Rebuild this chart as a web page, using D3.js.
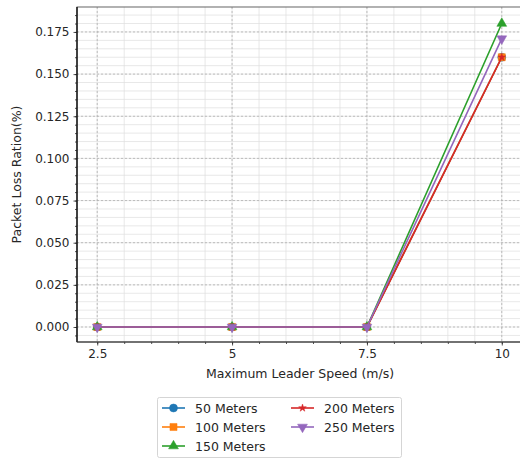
<!DOCTYPE html>
<html><head><meta charset="utf-8">
<script src="https://cdn.jsdelivr.net/npm/d3@7"></script>
<style>body{margin:0;background:#fff;} svg{display:block;} text{font-family:"DejaVu Sans",sans-serif;fill:#262626;}</style>
</head><body>
<svg id="c" width="520" height="459"></svg>
<script>
const speeds = [2.5, 5, 7.5, 10];
const xTickLabels = ["2.5", "5", "7.5", "10"];
const yTicks = [0, 0.025, 0.05, 0.075, 0.1, 0.125, 0.15, 0.175];
const seriesNames = ["50 Meters", "100 Meters", "150 Meters", "200 Meters", "250 Meters"];
const s50 = [0, 0, 0, 0.16];
const s100 = [0, 0, 0, 0.16];
const s150 = [0, 0, 0, 0.18];
const s200 = [0, 0, 0, 0.16];
const s250 = [0, 0, 0, 0.171];
const colors = ["#1f77b4", "#ff7f0e", "#2ca02c", "#d62728", "#9467bd"];
const symbols = ["circle", "square", "triangle", "star", "triangledown"];

const series = [s50, s100, s150, s200, s250].map((v, i) => ({name: seriesNames[i], values: v, color: colors[i], sym: symbols[i]}));

const svg = d3.select("#c");
const L = 77, R = 522, T = 7, B = 342;
const x = d3.scaleLinear().domain([2.125, 10.375]).range([L, R]);
const y = d3.scaleLinear().domain([-0.0089, 0.1898]).range([B, T]);

// grid
const g = svg.append("g");
const xMinor = d3.range(2.5, 10.01, 0.5);
const yMinor = d3.range(-0.005, 0.1899, 0.005);
g.selectAll(".xm").data(xMinor).enter().append("line")
  .attr("x1", d => x(d)).attr("x2", d => x(d)).attr("y1", T).attr("y2", B)
  .attr("stroke", "#dedede").attr("stroke-width", 0.7);
g.selectAll(".ym").data(yMinor).enter().append("line")
  .attr("x1", L).attr("x2", R).attr("y1", d => y(d)).attr("y2", d => y(d))
  .attr("stroke", "#dedede").attr("stroke-width", 0.7);
g.selectAll(".xM").data(speeds).enter().append("line")
  .attr("x1", d => x(d)).attr("x2", d => x(d)).attr("y1", T).attr("y2", B)
  .attr("stroke", "#b0b0b0").attr("stroke-width", 0.8).attr("stroke-dasharray", "2,2");
g.selectAll(".yM").data(yTicks).enter().append("line")
  .attr("x1", L).attr("x2", R).attr("y1", d => y(d)).attr("y2", d => y(d))
  .attr("stroke", "#b0b0b0").attr("stroke-width", 0.8).attr("stroke-dasharray", "2,2");

// axes
const xAxis = d3.axisBottom(x).tickValues(speeds).tickFormat((d, i) => xTickLabels[i]).tickSize(3.5).tickPadding(4);
const yAxis = d3.axisLeft(y).tickValues(yTicks).tickFormat(d3.format(".3f")).tickSize(3.5).tickPadding(4);
const xMinorAxis = d3.axisBottom(x).tickValues(xMinor).tickFormat("").tickSize(2);
const yMinorAxis = d3.axisLeft(y).tickValues(yMinor).tickFormat("").tickSize(2);

[xMinorAxis, xAxis].forEach(a => {
  const ax = svg.append("g").attr("transform", `translate(0,${B})`).call(a);
  ax.select(".domain").remove();
  ax.selectAll("line").attr("stroke", "#262626").attr("stroke-width", 0.8);
  ax.selectAll("text").style("font-size", "12px").attr("fill", "#262626");
});
[yMinorAxis, yAxis].forEach(a => {
  const ax = svg.append("g").attr("transform", `translate(${L},0)`).call(a);
  ax.select(".domain").remove();
  ax.selectAll("line").attr("stroke", "#262626").attr("stroke-width", 0.8);
  ax.selectAll("text").style("font-size", "12px").attr("fill", "#262626");
});

// spines
svg.append("rect").attr("x", L).attr("y", T).attr("width", R - L).attr("height", B - T)
  .attr("fill", "none").attr("stroke", "#555").attr("stroke-width", 0.9);
svg.append("line").attr("x1", L).attr("x2", L).attr("y1", T).attr("y2", B).attr("stroke", "#111").attr("stroke-width", 1.4);
svg.append("line").attr("x1", L).attr("x2", R).attr("y1", B).attr("y2", B).attr("stroke", "#333").attr("stroke-width", 1.2);

// labels
svg.append("text").attr("x", 300).attr("y", 378).attr("text-anchor", "middle")
  .style("font-size", "12.5px").text("Maximum Leader Speed (m/s)");
svg.append("text").attr("transform", `translate(21,${(T + B) / 2}) rotate(-90)`).attr("text-anchor", "middle")
  .style("font-size", "12.5px").text("Packet Loss Ration(%)");

// lines
const line = d3.line().x((d, i) => x(speeds[i])).y(d => y(d));
const symType = {circle: d3.symbolCircle, square: d3.symbolSquare, triangle: d3.symbolTriangle, star: d3.symbolStar, triangledown: d3.symbolTriangle};
const symSize = {circle: 50, square: 50, triangle: 42, star: 18, triangledown: 42};
function drawSym(sel, s, cx, cy) {
  sel.append("path").attr("d", d3.symbol().type(symType[s.sym]).size(symSize[s.sym])())
    .attr("transform", `translate(${cx},${cy})` + (s.sym === "triangledown" ? " rotate(180)" : ""))
    .attr("fill", s.color).attr("stroke", s.color).attr("stroke-width", 0.5);
}
const plot = svg.append("g");
series.forEach(s => {
  plot.append("path").datum(s.values).attr("d", line).attr("fill", "none")
    .attr("stroke", s.color).attr("stroke-width", 1.6);
  s.values.forEach((v, i) => drawSym(plot, s, x(speeds[i]), y(v)));
});

// legend
const lg = svg.append("g");
lg.append("rect").attr("x", 157.5).attr("y", 397.5).attr("width", 244).attr("height", 60)
  .attr("rx", 2).attr("fill", "#fff").attr("stroke", "#d0d0d0").attr("stroke-width", 0.9);
const pos = [[162, 408], [162, 427], [162, 446], [291, 408], [291, 427]];
series.forEach((s, i) => {
  const [lx, ly] = pos[i];
  lg.append("line").attr("x1", lx).attr("x2", lx + 23).attr("y1", ly).attr("y2", ly)
    .attr("stroke", s.color).attr("stroke-width", 1.6);
  drawSym(lg, s, lx + 11.5, ly);
  lg.append("text").attr("x", lx + 33).attr("y", ly + 4.5).style("font-size", "12.5px").text(s.name);
});
</script>
</body></html>
